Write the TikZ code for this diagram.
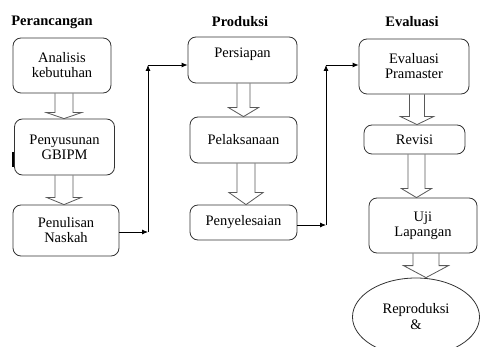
\documentclass[tikz,border=0pt]{standalone}
\usepackage{fontspec}
\setmainfont{Liberation Serif}
\usetikzlibrary{calc,shapes.geometric,arrows.meta}

\tikzset{
  box/.style={draw=black!80, line width=0.8pt, rounded corners=8pt, align=center,
    font=\fontsize{14.5}{15}\selectfont},
  title/.style={font=\fontsize{14.5}{15}\selectfont\bfseries},
  hollow/.style={draw=black!65, line width=0.8pt},
  conn/.style={->, line width=0.8pt}
}

% block arrow: from, to, x shift, half shaft, half head, head length
\newcommand{\hollowarrow}[6]{%
  \draw[hollow] let \p1=(#1.south), \p2=(#2.north) in
    (\x1+#3-#4,\y1) -- (\x1+#3-#4,\y2+#6) -- (\x1+#3-#5,\y2+#6) -- (\x1+#3,\y2)
    -- (\x1+#3+#5,\y2+#6) -- (\x1+#3+#4,\y2+#6) -- (\x1+#3+#4,\y1);
}

\begin{document}
\begin{tikzpicture}[x=1pt, y=-1pt, >={Latex[length=6pt,width=5pt]}]
    \clip (0,0) rectangle (481,347);

    % Titles
    \node[title] (t1) at (52,22) {Perancangan};
    \node[title] (t2) at (240,22) {Produksi};
    \node[title] (t3) at (412,22) {Evaluasi};

    % Perancangan
    \node[box,minimum width=98pt,minimum height=55pt] (ana) at (62,65.5) {Analisis\\kebutuhan};
    \node[box,minimum width=100pt,minimum height=56pt] (gbi) at (64.5,147) {Penyusunan\\GBIPM};
    \node[box,minimum width=106pt,minimum height=51pt] (nas) at (66,230.5) {Penulisan\\Naskah};
    \draw[line width=2pt] (13,152) -- (13,167);

    % Produksi
    \node[box,minimum width=109pt,minimum height=46pt,text height=8pt,text depth=12.5pt] (per) at (242.5,60) {Persiapan};
    \node[box,minimum width=107pt,minimum height=46pt] (pel) at (243.5,140) {Pelaksanaan};
    \node[box,minimum width=107pt,minimum height=35pt] (pny) at (243.5,222.5) {Penyelesaian};

    % Evaluasi
    \node[box,minimum width=110pt,minimum height=55pt] (eva) at (414,66.5) {Evaluasi\\Pramaster};
    \node[box,minimum width=101pt,minimum height=29pt] (rev) at (414.5,139.5) {Revisi};
    \node[box,minimum width=108pt,minimum height=55pt] (uji) at (423,225.5) {Uji\\Lapangan};
    \node[ellipse,draw=black!80,line width=0.8pt,minimum width=127pt,minimum height=78pt,align=center,
      font=\fontsize{14.5}{16}\selectfont] (rep) at (416,317) {Reproduksi\\\&};

    % Block arrows
    \hollowarrow{ana}{gbi}{2pt}{9pt}{17.5pt}{6pt}
    \hollowarrow{gbi}{nas}{-0.5pt}{9pt}{17pt}{7pt}
    \hollowarrow{per}{pel}{1pt}{6.5pt}{15pt}{9pt}
    \hollowarrow{pel}{pny}{2.5pt}{9pt}{17pt}{12pt}
    \hollowarrow{eva}{rev}{3pt}{7.5pt}{16.5pt}{8pt}
    \hollowarrow{rev}{uji}{2pt}{8.5pt}{15pt}{9pt}
    \hollowarrow{uji}{rep}{3pt}{13pt}{22.5pt}{12pt}

    % Links between columns
    \coordinate (k1) at (148,232);
    \coordinate (k2) at (148,65);
    \draw[conn] (nas.east |- k1) -- (k1);
    \draw[conn] (k1) -- (k2);
    \draw[conn] (k2) -- (per.west |- k2);

    \coordinate (k3) at (326,225);
    \coordinate (k4) at (326,65);
    \draw[conn] (pny.east |- k3) -- (k3);
    \draw[conn] (k3) -- (k4);
    \draw[conn] (k4) -- (eva.west |- k4);
\end{tikzpicture}
\end{document}
